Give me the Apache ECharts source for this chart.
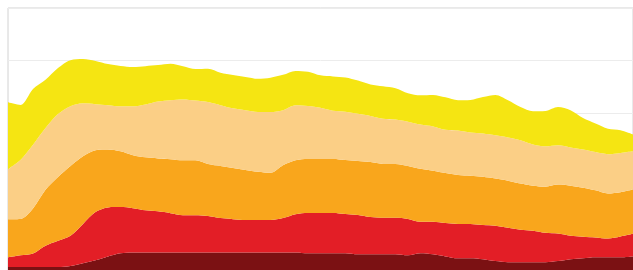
<!DOCTYPE html>
<html>
<head>
<meta charset="utf-8">
<script src="https://cdn.jsdelivr.net/npm/echarts@6/dist/echarts.min.js"></script>
<style>
html,body{margin:0;padding:0;background:#fff;}
#main{width:633px;height:270px;}
</style>
</head>
<body>
<div id="main"></div>
<script>
// 51 evenly spaced samples
var cats = [];
for (var i = 0; i < 51; i++) { cats.push(i + 1); }

var darkRed = [1.1,1.1,1.1,1.1,1.1,1.5,2.6,3.7,5.2,6.4,6.7,6.7,6.7,6.7,6.7,6.7,6.7,6.7,6.7,6.7,6.7,6.7,6.7,6.7,6.4,6.4,6.4,6.4,6.0,6.0,6.0,6.0,5.6,6.4,6.0,5.2,4.5,4.5,4.1,3.4,3.0,3.0,3.0,3.0,3.4,4.1,4.5,4.9,4.9,4.9,5.2];
var red = [3.7,4.5,5.2,8.2,10.1,11.6,15.0,18.4,18.7,17.6,16.9,16.1,15.7,15.0,14.2,14.2,13.9,13.1,12.7,12.4,12.4,12.4,13.1,14.6,15.4,15.4,15.4,15.0,15.0,14.2,13.9,13.9,13.9,12.0,12.4,12.7,13.1,13.1,13.1,13.5,13.1,12.4,12.0,11.2,10.5,9.0,8.2,7.5,7.1,7.9,8.6];
var orange = [14.6,13.9,17.2,21.3,24.3,26.6,25.8,23.6,22.1,21.3,20.2,20.2,20.2,20.6,21.0,21.0,19.9,19.9,19.5,19.1,18.4,18.0,20.2,20.6,20.6,20.6,20.6,20.6,20.6,21.0,20.6,20.6,20.2,20.2,19.5,19.1,18.7,18.4,18.4,18.0,18.0,17.6,17.2,17.6,18.7,19.1,18.7,18.0,17.2,16.9,16.9];
var peach = [19.1,22.5,24.3,23.6,24.0,22.8,20.2,17.6,16.9,17.2,18.7,20.2,21.7,22.5,23.2,22.8,23.6,23.2,22.8,22.8,22.8,23.2,21.0,21.0,20.2,19.5,18.4,18.4,18.0,17.6,17.2,16.9,16.9,16.9,16.9,16.5,16.9,16.5,16.5,16.5,16.5,16.5,15.7,15.4,15.0,14.6,14.6,14.6,15.0,15.0,14.6];
var yellow = [25.5,21.0,21.3,18.4,17.6,17.6,16.9,16.5,15.7,15.4,15.0,14.6,13.9,13.9,12.7,12.0,12.7,12.4,12.7,12.7,12.7,13.1,13.5,13.1,13.1,12.4,13.1,13.1,12.7,12.0,12.4,12.0,10.9,11.2,12.0,12.4,11.6,12.4,13.9,15.4,14.2,12.7,12.7,13.5,14.6,14.2,12.0,10.9,9.7,8.6,6.4];

var layers = [
    {name: 'darkRed', data: darkRed, color: '#7b1113'},
    {name: 'red', data: red, color: '#e31e26'},
    {name: 'orange', data: orange, color: '#f9a61c'},
    {name: 'peach', data: peach, color: '#fbcf86'},
    {name: 'yellow', data: yellow, color: '#f5e512'}
];

var series = [];
layers.forEach(function (l) {
    series.push({
        name: l.name,
        type: 'line',
        stack: 'total',
        data: l.data,
        smooth: 0.3,
        symbol: 'none',
        lineStyle: {width: 0},
        areaStyle: {color: l.color, opacity: 1},
        itemStyle: {color: l.color}
    });
});

var myChart = echarts.init(document.getElementById('main'));
myChart.setOption({
    animation: false,
    grid: {
        left: 8, top: 8, width: 625, height: 267,
        show: true, borderColor: '#d2d2d2', borderWidth: 1
    },
    xAxis: {
        type: 'category',
        data: cats,
        boundaryGap: false,
        axisLine: {show: false},
        axisTick: {show: false},
        axisLabel: {show: false}
    },
    yAxis: {
        type: 'value',
        min: 0, max: 100, interval: 20,
        axisLine: {show: false},
        axisTick: {show: false},
        axisLabel: {show: false},
        splitLine: {lineStyle: {color: '#ececec'}}
    },
    series: series
});
</script>
</body>
</html>
